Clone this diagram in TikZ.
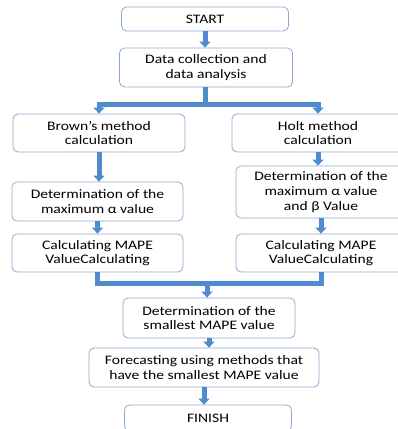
\documentclass[tikz,border=0pt]{standalone}
\usepackage{fontspec}
\setmainfont{Carlito}[FakeStretch=1.2]
\usetikzlibrary{arrows.meta}
\definecolor{boxline}{RGB}{141,170,206}
\definecolor{flowblue}{RGB}{80,140,205}
\tikzset{
  stage/.style={draw=boxline, line width=0.8pt, rounded corners=5pt, align=center,
    inner sep=2pt, font=\fontsize{13}{14.8}\selectfont},
  flow/.style={draw=flowblue, line width=5pt},
  flowarr/.style={flow, -{Triangle[width=11pt,length=6pt]}}
}

\begin{document}
\begin{tikzpicture}[x=1pt,y=-1pt]
    \useasboundingbox (0,0) rectangle (398,429);
    % middle column
    \node[stage, minimum width=167pt, minimum height=24pt] (start) at (205,19) {START};
    \node[stage, minimum width=173pt, minimum height=39pt] (data) at (206,67.5) {Data collection and\\data analysis};
    % left and right columns
    \node[stage, minimum width=172pt, minimum height=38pt] (brown) at (99,133) {Brown's method\\calculation};
    \node[stage, minimum width=172pt, minimum height=38pt] (holt) at (318,133) {Holt method\\calculation};
    \node[stage, minimum width=171pt, minimum height=39pt] (detb) at (97.5,201.5) {Determination of the\\maximum α value};
    \node[stage, minimum width=170pt, minimum height=52pt] (deth) at (321,192) {Determination of the\\maximum α value\\and β Value};
    \node[stage, minimum width=171pt, minimum height=38pt] (calcb) at (97.5,253) {Calculating MAPE\\ValueCalculating};
    \node[stage, minimum width=170pt, minimum height=38pt] (calch) at (321,253) {Calculating MAPE\\ValueCalculating};
    % bottom part
    \node[stage, minimum width=172pt, minimum height=40pt] (small) at (209,318) {Determination of the\\smallest MAPE value};
    \node[stage, minimum width=230pt, minimum height=39pt] (fore) at (204,367.5) {Forecasting using methods that\\have the smallest MAPE value};
    \node[stage, minimum width=167pt, minimum height=26pt] (finish) at (208,418) {FINISH};

    \coordinate (fork) at (205,104);
    \coordinate (join) at (207,283);

    \draw[flowarr] (start.south) -- (start.south |- data.north);
    \draw[flow] (data.south -| fork) -- (fork);
    \draw[flowarr] (fork) -| (brown.north);
    \draw[flowarr] (fork) -| (holt.north);
    \draw[flowarr] (brown.south) -- (brown.south |- detb.north);
    \draw[flowarr] (detb.south) -- (detb.south |- calcb.north);
    \draw[flowarr] (holt.south) -- (holt.south |- deth.north);
    \draw[flowarr] (deth.south) -- (deth.south |- calch.north);
    \draw[flow] (calcb.south) |- (join) -| (calch.south);
    \draw[flowarr] (join) -- (join |- small.north);
    \draw[flowarr] (small.south) -- (small.south |- fore.north);
    \draw[flowarr] (fore.south) -- (fore.south |- finish.north);
\end{tikzpicture}
\end{document}
